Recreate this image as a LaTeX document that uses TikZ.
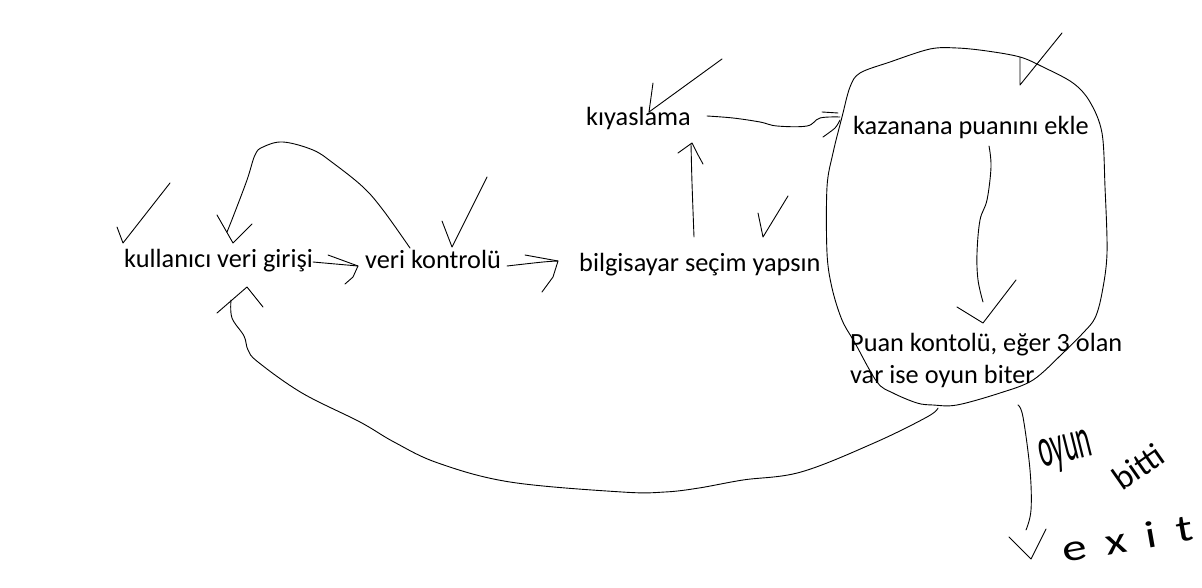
\documentclass[tikz,border=0pt]{standalone}
\usepackage{fontspec}
\setmainfont{Carlito}
\begin{document}
\begin{tikzpicture}[x=1pt,y=-1pt,
  lbl/.style={inner sep=0pt,anchor=base west,font=\fontsize{26.3}{32}\selectfont},
  pen/.style={line width=0.9pt,line join=round,line cap=round},
  hand/.style={inner sep=0pt,anchor=base west}]
\useasboundingbox (0,0) rectangle (1202,588);

% labels
\node[lbl] (kvg) at (124,267) {kullanıcı veri girişi};
\node[lbl] (vk) at (365,268) {veri kontrolü};
\node[lbl] (bs) at (579,271) {bilgisayar seçim yapsın};
\node[lbl] (kiy) at (586,126) {kıyaslama};
\node[lbl] (kaz) at (853,135) {kazanana puanını ekle};
\node[lbl,align=left] (puan) at (850,383) {Puan kontolü, eğer 3 olan\\var ise oyun biter};

% ticks
\draw[pen] (117,227) -- (123,243) -- (170,183);
\draw[pen] (442,221) -- (452,247) -- (487,177);
\draw[pen] (653,83) -- (649,112) -- (722,59);
\draw[pen] (758,213) -- (763,237) -- (788,196);
\draw[pen] (1020,57) -- (1020,85) -- (1062,33);

% kullanici -> veri kontrolu
\coordinate (a1s) at (313,262); \coordinate (a1e) at (358,266);
\draw[pen] (a1s) -- (a1e);
\draw[pen] (328,255) -- (a1e) -- (353,277) -- (345,284);

% veri kontrolu -> bilgisayar
\coordinate (a2s) at (507,266); \coordinate (a2e) at (558,261);
\draw[pen] plot[smooth] coordinates {(a2s) (543,262) (a2e)};
\draw[pen] (525,255) -- (a2e) -- (553,277) -- (542,292);

% veri kontrolu loop -> kullanici
\coordinate (l1s) at (410,248); \coordinate (l1e) at (227,232);
\draw[pen] plot[smooth,tension=0.6] coordinates {(l1s) (383,210) (363,187) (333,163) (313,150) (283,142) (263,147) (255,155) (247,180) (233,217) (l1e)};
\draw[pen] (217,215) -- (233,243) -- (252,224);

% bilgisayar -> kiyaslama
\coordinate (a3s) at (694,237); \coordinate (a3e) at (691,144);
\draw[pen] plot[smooth] coordinates {(a3s) (692,183) (a3e)};
\draw[pen] (678,153) -- (692,143) -- (697,153) -- (703,164);

% kiyaslama -> kazanana
\coordinate (a4s) at (707,116); \coordinate (a4e) at (840,117);
\draw[pen] plot[smooth,tension=0.6] coordinates {(a4s) (733,118) (760,122) (777,126) (807,126) (820,118) (a4e)};
\draw[pen] (822,112) -- (838,113);
\draw[pen] plot[smooth] coordinates {(840,120) (835,128) (823,137)};

% big loop
\draw[pen] plot[smooth cycle,tension=0.55] coordinates {
 (860,73) (890,62) (930,49) (957,48) (987,51) (1020,57) (1043,67) (1073,83)
 (1090,102) (1102,133) (1105,187) (1107,253) (1102,293) (1095,318) (1083,333)
 (1063,353) (1033,380) (1000,393) (957,405) (933,405) (917,403) (893,393)
 (877,382) (855,343) (842,320) (832,288) (827,253) (827,187) (833,153)
 (842,117) (850,87)};

% kazanana -> puan
\coordinate (a5s) at (989,146); \coordinate (a5e) at (983,302);
\draw[pen] plot[smooth,tension=0.6] coordinates {(a5s) (991,167) (987,200) (980,220) (977,253) (978,280) (a5e)};
\draw[pen] (957,307) -- (983,323) -- (1016,280);

% puan -> kullanici (return)
\coordinate (a6s) at (938,408); \coordinate (a6e) at (231,300);
\draw[pen] plot[smooth,tension=0.6] coordinates {(a6s) (927,417) (874,443) (801,472) (743,480) (699,488) (665,492) (622,492) (510,482) (438,463) (394,442) (360,422) (302,393) (258,362) (248,350) (244,336) (232,318) (a6e)};
\draw[pen] (217,313) -- (247,287) -- (263,307);

% exit
\coordinate (a7s) at (1018,405); \coordinate (a7e) at (1026,530);
\draw[pen] plot[smooth,tension=0.6] coordinates {(a7s) (1023,417) (1030,470) (1031,510) (a7e)};
\draw[pen] (1009,537) -- (1031,559) -- (1046,529);

% handwriting
\node[hand,rotate=14] (oyun) at (1042,468) {\scalebox{0.82}[1.75]{\fontsize{32}{32}\selectfont oyun}};
\node[hand,rotate=35] (bitti) at (1122,492) {\scalebox{1.3}[1.3]{\fontsize{26}{26}\selectfont bitti}};
\node[hand,rotate=10] (exit) at (1064,563) {\scalebox{1.3}[1.0]{\fontsize{38}{38}\selectfont\addfontfeature{LetterSpace=40}exit}};
\end{tikzpicture}
\end{document}
